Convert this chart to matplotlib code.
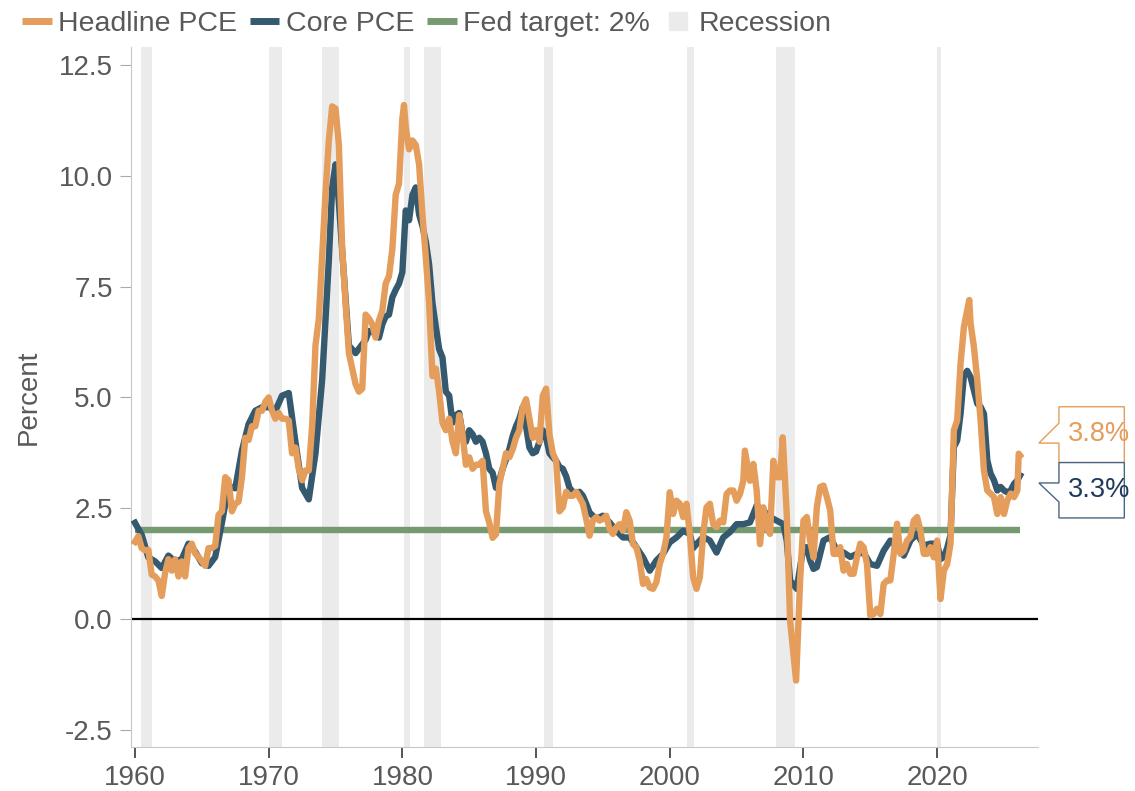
import matplotlib
matplotlib.use("Agg")
import matplotlib.pyplot as plt
from matplotlib.lines import Line2D
from matplotlib.patches import Polygon

# PCE inflation, year-over-year percent
headline_t = [
    1960.0, 1960.25, 1960.5, 1960.75, 1961.0, 1961.25, 1961.5, 1961.75,
    1962.0, 1962.25, 1962.5, 1962.75, 1963.0, 1963.25, 1963.5, 1963.75,
    1964.0, 1964.25, 1964.5, 1964.75, 1965.0, 1965.25, 1965.5, 1965.75,
    1966.0, 1966.25, 1966.5, 1966.75, 1967.0, 1967.25, 1967.5, 1967.75,
    1968.0, 1968.25, 1968.5, 1968.75, 1969.0, 1969.25, 1969.5, 1969.75,
    1970.0, 1970.25, 1970.5, 1970.75, 1971.0, 1971.25, 1971.5, 1971.75,
    1972.0, 1972.25, 1972.5, 1972.75, 1973.0, 1973.25, 1973.5, 1973.75,
    1974.0, 1974.25, 1974.5, 1974.75, 1975.0, 1975.25, 1975.5, 1975.75,
    1976.0, 1976.25, 1976.5, 1976.75, 1977.0, 1977.25, 1977.5, 1977.75,
    1978.0, 1978.25, 1978.5, 1978.75, 1979.0, 1979.25, 1979.5, 1979.75,
    1980.0, 1980.12, 1980.25, 1980.5, 1980.75, 1981.0, 1981.25, 1981.5,
    1981.75, 1982.0, 1982.25, 1982.5, 1982.75, 1983.0, 1983.25, 1983.5,
    1983.75, 1984.0, 1984.25, 1984.5, 1984.75, 1985.0, 1985.25, 1985.5,
    1985.75, 1986.0, 1986.25, 1986.5, 1986.75, 1987.0, 1987.25, 1987.5,
    1987.75, 1988.0, 1988.25, 1988.5, 1988.75, 1989.0, 1989.25, 1989.5,
    1989.75, 1990.0, 1990.25, 1990.5, 1990.75, 1991.0, 1991.25, 1991.5,
    1991.75, 1992.0, 1992.25, 1992.5, 1992.75, 1993.0, 1993.25, 1993.5,
    1993.75, 1994.0, 1994.25, 1994.5, 1994.75, 1995.0, 1995.25, 1995.5,
    1995.75, 1996.0, 1996.25, 1996.5, 1996.75, 1997.0, 1997.25, 1997.5,
    1997.75, 1998.0, 1998.25, 1998.5, 1998.75, 1999.0, 1999.25, 1999.5,
    1999.75, 2000.0, 2000.25, 2000.5, 2000.75, 2001.0, 2001.25, 2001.5,
    2001.75, 2002.0, 2002.25, 2002.5, 2002.75, 2003.0, 2003.25, 2003.5,
    2003.75, 2004.0, 2004.25, 2004.5, 2004.75, 2005.0, 2005.25, 2005.5,
    2005.62, 2006.0, 2006.25, 2006.5, 2006.75, 2007.0, 2007.25, 2007.5,
    2007.75, 2008.0, 2008.25, 2008.45, 2008.75, 2009.0, 2009.15, 2009.45,
    2009.75, 2010.0, 2010.25, 2010.5, 2010.75, 2011.0, 2011.25, 2011.5,
    2011.75, 2012.0, 2012.25, 2012.5, 2012.75, 2013.0, 2013.25, 2013.5,
    2013.75, 2014.0, 2014.25, 2014.5, 2014.75, 2015.0, 2015.25, 2015.5,
    2015.75, 2016.0, 2016.25, 2016.5, 2016.75, 2017.0, 2017.25, 2017.5,
    2017.75, 2018.0, 2018.25, 2018.5, 2018.75, 2019.0, 2019.25, 2019.5,
    2019.75, 2020.0, 2020.25, 2020.5, 2020.75, 2021.0, 2021.25, 2021.5,
    2021.75, 2022.0, 2022.25, 2022.4, 2022.5, 2022.75, 2023.0, 2023.25,
    2023.5, 2023.75, 2024.0, 2024.25, 2024.5, 2024.75, 2025.0, 2025.25,
    2025.5, 2025.75, 2026.0, 2026.1, 2026.2,
]
headline = [
    1.74, 1.87, 1.60, 1.55, 1.56, 1.00, 0.96, 0.87,
    0.52, 1.04, 1.35, 1.09, 1.35, 0.96, 1.30, 0.96,
    1.60, 1.70, 1.48, 1.40, 1.30, 1.20, 1.60, 1.60,
    1.65, 2.35, 2.43, 3.20, 3.13, 2.43, 2.60, 2.65,
    3.20, 4.09, 4.04, 4.35, 4.35, 4.70, 4.70, 4.90,
    5.00, 4.70, 4.52, 4.65, 4.52, 4.52, 4.48, 3.74,
    3.87, 3.39, 3.13, 3.35, 3.35, 4.35, 6.17, 6.78,
    8.17, 9.60, 10.80, 11.57, 11.52, 10.70, 8.35, 7.13,
    6.00, 5.65, 5.30, 5.13, 5.20, 6.87, 6.78, 6.65,
    6.35, 6.74, 6.96, 7.57, 7.74, 8.35, 9.57, 9.83,
    11.30, 11.60, 11.10, 10.60, 10.80, 10.70, 10.26, 9.13,
    8.17, 7.13, 5.48, 5.65, 5.13, 4.43, 4.26, 4.52,
    4.00, 3.74, 4.60, 4.17, 3.48, 3.65, 3.39, 3.48,
    3.48, 3.57, 2.43, 2.17, 1.83, 1.91, 3.04, 3.39,
    3.74, 3.65, 3.83, 4.09, 4.26, 4.78, 4.96, 4.52,
    4.09, 4.26, 4.00, 5.04, 5.20, 4.17, 3.74, 3.57,
    2.43, 2.52, 2.87, 2.78, 2.78, 2.87, 2.74, 2.60,
    2.26, 1.88, 2.22, 2.30, 2.22, 2.26, 2.33, 2.03,
    1.92, 2.07, 2.14, 1.99, 2.41, 2.22, 1.69, 1.62,
    1.32, 0.79, 0.90, 0.71, 0.68, 0.83, 1.24, 1.47,
    1.84, 2.86, 2.37, 2.67, 2.60, 2.30, 2.60, 1.92,
    0.94, 0.68, 0.94, 1.92, 2.52, 2.60, 2.14, 2.07,
    2.22, 2.18, 2.82, 2.90, 2.90, 2.67, 2.82, 3.12,
    3.80, 3.12, 3.50, 2.90, 1.69, 2.52, 2.07, 1.92,
    3.57, 3.20, 3.20, 4.10, 2.37, -0.04, -0.49, -1.39,
    0.87, 2.22, 2.30, 1.77, 1.39, 2.52, 2.98, 3.01,
    2.75, 2.45, 1.47, 1.47, 1.62, 1.09, 1.24, 1.02,
    1.02, 1.39, 1.70, 1.62, 1.24, 0.08, 0.11, 0.23,
    0.11, 0.79, 0.87, 0.87, 1.47, 2.15, 1.47, 1.54,
    1.77, 1.85, 2.22, 2.30, 2.00, 1.47, 1.47, 1.62,
    1.39, 1.77, 0.45, 1.09, 1.24, 1.70, 4.26, 4.48,
    5.76, 6.59, 6.97, 7.20, 6.67, 6.14, 5.39, 4.48,
    3.35, 2.90, 2.83, 2.75, 2.37, 2.75, 2.37, 2.68,
    2.83, 2.75, 2.90, 3.73, 3.69,
]

core_t = [
    1960.0, 1960.5, 1961.0, 1961.5, 1962.0, 1962.5, 1963.0, 1963.5,
    1964.0, 1964.5, 1965.0, 1965.5, 1966.0, 1966.5, 1967.0, 1967.5,
    1968.0, 1968.5, 1969.0, 1969.5, 1970.0, 1970.5, 1971.0, 1971.5,
    1972.0, 1972.5, 1973.0, 1973.5, 1974.0, 1974.5, 1974.75, 1975.0,
    1975.25, 1975.5, 1976.0, 1976.5, 1977.0, 1977.25, 1977.5, 1977.75,
    1978.0, 1978.25, 1978.5, 1978.75, 1979.0, 1979.25, 1979.5, 1979.75,
    1980.0, 1980.25, 1980.5, 1980.75, 1981.0, 1981.25, 1981.5, 1981.75,
    1982.0, 1982.25, 1982.5, 1982.75, 1983.0, 1983.25, 1983.5, 1983.75,
    1984.0, 1984.25, 1984.5, 1984.75, 1985.0, 1985.25, 1985.5, 1985.75,
    1986.0, 1986.25, 1986.5, 1986.75, 1987.0, 1987.25, 1987.5, 1987.75,
    1988.0, 1988.25, 1988.5, 1988.75, 1989.0, 1989.25, 1989.5, 1989.75,
    1990.0, 1990.25, 1990.5, 1990.75, 1991.0, 1991.25, 1991.5, 1991.75,
    1992.0, 1992.25, 1992.5, 1992.75, 1993.0, 1993.25, 1993.5, 1993.75,
    1994.0, 1994.5, 1995.0, 1995.5, 1996.0, 1996.5, 1997.0, 1997.5,
    1998.0, 1998.5, 1999.0, 1999.5, 2000.0, 2000.5, 2001.0, 2001.5,
    2001.75, 2002.0, 2002.5, 2003.0, 2003.5, 2004.0, 2004.5, 2005.0,
    2005.5, 2006.0, 2006.5, 2007.0, 2007.5, 2008.0, 2008.5, 2008.75,
    2009.0, 2009.5, 2009.75, 2010.0, 2010.25, 2010.5, 2010.75, 2011.0,
    2011.5, 2012.0, 2012.5, 2013.0, 2013.5, 2014.0, 2014.5, 2015.0,
    2015.5, 2016.0, 2016.5, 2017.0, 2017.5, 2018.0, 2018.5, 2019.0,
    2019.5, 2020.0, 2020.25, 2020.5, 2020.75, 2021.0, 2021.25, 2021.5,
    2021.75, 2022.0, 2022.25, 2022.5, 2022.75, 2023.0, 2023.25, 2023.5,
    2023.75, 2024.0, 2024.25, 2024.5, 2024.75, 2025.0, 2025.25, 2025.5,
    2025.75, 2026.0, 2026.2,
]
core = [
    2.17, 1.90, 1.39, 1.30, 1.15, 1.43, 1.30, 1.35,
    1.70, 1.52, 1.26, 1.20, 1.40, 2.17, 3.00, 2.95,
    3.80, 4.40, 4.70, 4.78, 4.78, 4.70, 5.04, 5.10,
    4.00, 2.96, 2.70, 3.74, 5.40, 8.10, 9.74, 10.26,
    9.40, 8.30, 6.17, 6.00, 6.20, 6.30, 6.50, 6.48,
    6.43, 6.35, 6.65, 6.83, 6.87, 7.26, 7.43, 7.57,
    7.83, 9.22, 9.00, 9.57, 9.74, 9.13, 8.87, 8.52,
    8.00, 7.13, 6.60, 6.09, 5.90, 5.13, 5.04, 4.43,
    4.60, 4.65, 4.17, 4.00, 4.26, 4.17, 4.00, 4.09,
    4.00, 3.74, 3.39, 3.30, 2.96, 3.13, 3.39, 3.60,
    3.83, 4.13, 4.35, 4.52, 4.78, 4.35, 3.87, 3.74,
    3.78, 4.00, 4.26, 4.09, 3.74, 3.65, 3.57, 3.43,
    3.39, 3.22, 2.96, 2.87, 2.83, 2.87, 2.78, 2.60,
    2.40, 2.26, 2.33, 2.18, 1.99, 1.84, 1.84, 1.62,
    1.39, 1.09, 1.32, 1.47, 1.73, 1.84, 1.99, 1.92,
    1.60, 1.69, 1.85, 1.77, 1.50, 1.84, 1.96, 2.14,
    2.14, 2.18, 2.56, 2.45, 2.30, 2.22, 2.14, 1.77,
    0.87, 0.68, 1.17, 1.62, 1.62, 1.32, 1.13, 1.17,
    1.77, 1.85, 1.54, 1.50, 1.40, 1.47, 1.50, 1.24,
    1.20, 1.54, 1.77, 1.62, 1.43, 1.77, 1.92, 1.66,
    1.70, 1.70, 1.35, 1.40, 1.60, 1.90, 3.88, 4.03,
    4.63, 5.50, 5.60, 5.46, 5.16, 4.86, 4.79, 4.63,
    3.58, 3.28, 3.13, 2.90, 2.98, 2.90, 2.86, 2.90,
    3.05, 3.13, 3.24,
]

recessions = [
    (1960.45, 1961.27), (1970.02, 1970.97), (1973.99, 1975.26),
    (1980.12, 1980.57), (1981.62, 1982.92), (1990.60, 1991.25),
    (2001.26, 2001.83), (2007.95, 2009.37), (2020.01, 2020.26),
]
fed_target = 2.0
target_span = (1960.0, 2026.2)
latest_labels = ["3.8%", "3.3%"]

ORANGE = "#E49D5A"
NAVY = "#35596F"
GREEN = "#769A6F"
GREY_BAND = "#EBEBEB"
TEXT = "#595959"
FS = 20

plt.rcParams["font.family"] = ["Liberation Sans", "DejaVu Sans"]
plt.rcParams["axes.unicode_minus"] = False

fig = plt.figure(figsize=(11.35, 7.91), dpi=100)
ax = fig.add_axes([0.1154, 0.0556, 0.7991, 0.885])

for start, end in recessions:
    ax.axvspan(start, end, color=GREY_BAND, lw=0, zorder=0)

ax.plot(target_span, [fed_target, fed_target], color=GREEN, lw=4.6,
        solid_capstyle="butt", zorder=2)
ax.axhline(0, color="black", lw=1.6, zorder=2)
ax.plot(core_t, core, color=NAVY, lw=4.6, zorder=3)
ax.plot(headline_t, headline, color=ORANGE, lw=4.6, zorder=4)

ax.set_xlim(1959.7, 2027.54)
ax.set_ylim(-2.89, 12.91)
yticks = [-2.5, 0, 2.5, 5, 7.5, 10, 12.5]
ax.set_yticks(yticks)
ax.set_yticklabels([f"{v:.1f}" for v in yticks])
ax.set_xticks(range(1960, 2021, 10))

for side in ("top", "right"):
    ax.spines[side].set_visible(False)
ax.spines["left"].set_color("#c8c8c8")
ax.spines["bottom"].set_color("#c8c8c8")
ax.tick_params(axis="y", length=8, color="#aaaaaa", labelcolor=TEXT,
               labelsize=FS, pad=5)
ax.tick_params(axis="x", length=8, width=1.4, color="#555555",
               labelcolor=TEXT, labelsize=FS, pad=5)
ax.set_ylabel("Percent", fontsize=FS, color=TEXT, labelpad=12)

# callout boxes for the latest readings
left, tip, right = 2029.11, 2027.61, 2034.0
boxes = [
    (latest_labels[0], ORANGE, ORANGE,
     [(left, 4.79), (right, 4.79), (right, 3.53), (left, 3.53),
      (left, 3.97), (tip, 3.97), (left, 4.42)], 4.17),
    (latest_labels[1], "#1F3A5F", "#4A6680",
     [(left, 3.53), (right, 3.53), (right, 2.28), (left, 2.28),
      (left, 2.64), (tip, 3.07), (left, 3.07)], 2.90),
]
for label, tcolor, ecolor, pts, ty in boxes:
    ax.add_patch(Polygon(pts, closed=True, facecolor="white",
                         edgecolor=ecolor, lw=1.0, clip_on=False, zorder=5))
    ax.text(left + 0.7, ty, label, color=tcolor, fontsize=19.5,
            va="center", ha="left", clip_on=False, zorder=6)

handles = [
    Line2D([], [], color=ORANGE, lw=5, solid_capstyle="butt"),
    Line2D([], [], color=NAVY, lw=5, solid_capstyle="butt"),
    Line2D([], [], color=GREEN, lw=5, solid_capstyle="butt"),
    Line2D([], [], color=GREY_BAND, marker="s", ls="none", markersize=12.5),
]
fig.legend(handles, ["Headline PCE", "Core PCE", "Fed target: 2%", "Recession"],
           loc="upper left", bbox_to_anchor=(0.004, 1.008), ncol=4,
           frameon=False, fontsize=20.5, handlelength=1.05, handletextpad=0.22,
           columnspacing=0.45, labelcolor=TEXT, borderaxespad=0.2)

fig.savefig("out.png", dpi=100)
